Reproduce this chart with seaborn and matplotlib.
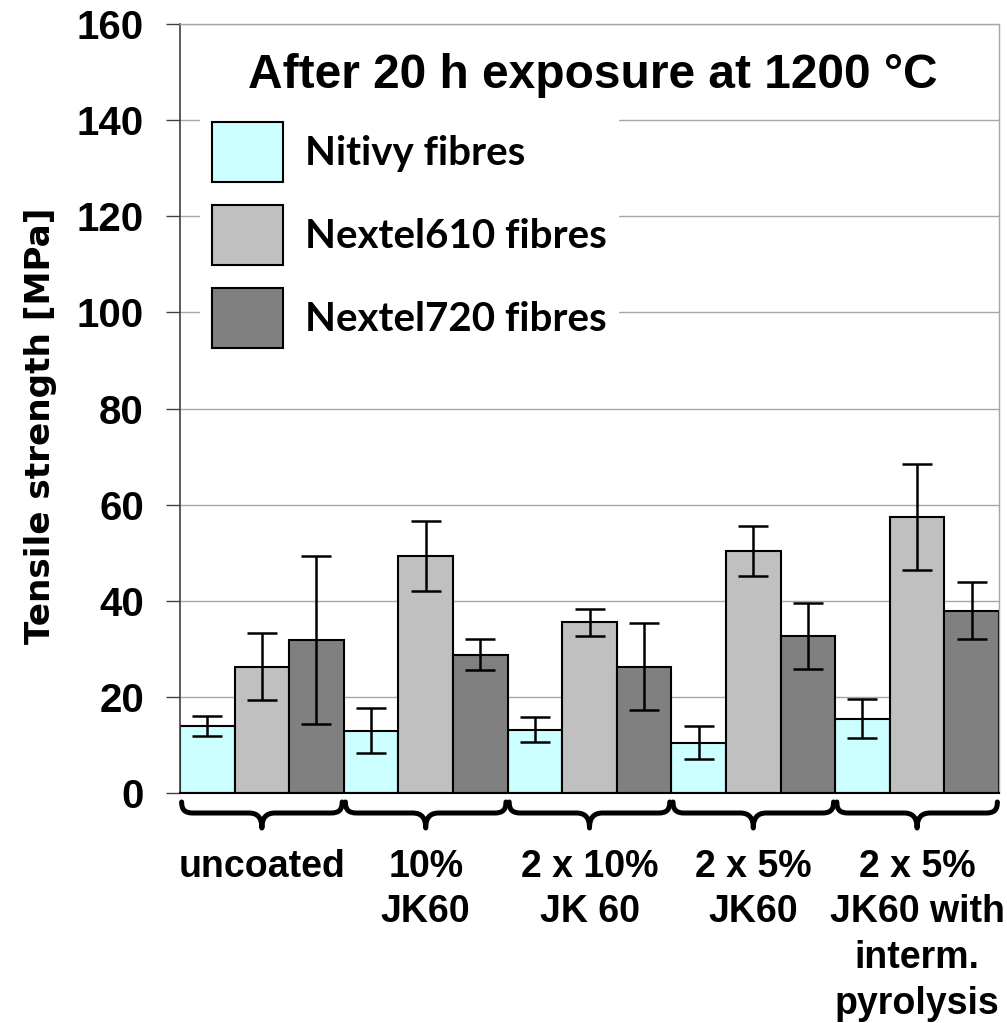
import numpy as np
import pandas as pd
import matplotlib
matplotlib.use("Agg")
import matplotlib.pyplot as plt
import seaborn as sns
from matplotlib.path import Path
from matplotlib.patches import PathPatch

# ---------------- data ----------------
groups = ["uncoated", "10%\nJK60", "2 x 10%\nJK 60", "2 x 5%\nJK60",
          "2 x 5%\nJK60 with\ninterm.\npyrolysis"]
fibres = ["Nitivy fibres", "Nextel610 fibres", "Nextel720 fibres"]
nitivy_vals = [14.0, 13.0, 13.2, 10.5, 15.5]
nitivy_err = [2.1, 4.75, 2.6, 3.45, 4.15]
n610_vals = [26.3, 49.3, 35.5, 50.4, 57.4]
n610_err = [7.0, 7.3, 2.8, 5.2, 11.05]
n720_vals = [31.9, 28.8, 26.3, 32.6, 37.9]
n720_err = [17.5, 3.2, 9.0, 6.9, 5.9]
colors = ["#CCFFFF", "#C0C0C0", "#808080"]
yticks = [0, 20, 40, 60, 80, 100, 120, 140, 160]
title = "After 20 h exposure at 1200 °C"
ylabel = "Tensile strength [MPa]"

vals = [nitivy_vals, n610_vals, n720_vals]
errs = [nitivy_err, n610_err, n720_err]
rows = []
for f, v in zip(fibres, vals):
    for g, val in zip(groups, v):
        rows.append({"group": g, "fibre": f, "value": val})
df = pd.DataFrame(rows)

# ---------------- figure ----------------
sns.set_style("white")
plt.rcParams["font.family"] = ["Liberation Sans", "DejaVu Sans"]
plt.rcParams["text.color"] = "black"
plt.rcParams["xtick.color"] = "black"
plt.rcParams["ytick.color"] = "black"
plt.rcParams["axes.labelcolor"] = "black"

W, H = 1007, 1023
fig = plt.figure(figsize=(W / 100, H / 100), dpi=100)
ax_l, ax_r, ax_t, ax_b = 180, 999, 24, 793
ax = fig.add_axes([ax_l / W, 1 - ax_b / H, (ax_r - ax_l) / W, (ax_b - ax_t) / H])

sns.barplot(data=df, x="group", y="value", hue="fibre", palette=colors,
            hue_order=fibres, order=groups, width=1.0, edgecolor="black",
            linewidth=1.5, errorbar=None, ax=ax, saturation=1)

# error bars at bar centres
for cont, e in zip(ax.containers, errs):
    xs = [p.get_x() + p.get_width() / 2 for p in cont.patches]
    hs = [p.get_height() for p in cont.patches]
    ax.errorbar(xs, hs, yerr=e, fmt="none", ecolor="black", elinewidth=1.8,
                capsize=11, capthick=1.8, zorder=5)

ax.set_xlim(-0.5, len(groups) - 0.5)
ax.set_ylim(0, 160)
ax.set_yticks(yticks)
ax.set_axisbelow(True)
ax.yaxis.grid(True, color="#a6a6a6", linewidth=1.0)
ax.xaxis.grid(False)

for s in ["top", "right"]:
    ax.spines[s].set_color("#a6a6a6")
    ax.spines[s].set_linewidth(1.0)
ax.spines["left"].set_color("#404040")
ax.spines["left"].set_linewidth(1.2)
ax.spines["bottom"].set_color("black")
ax.spines["bottom"].set_linewidth(1.5)

ax.tick_params(axis="y", which="major", direction="out", length=10, width=1.0,
               color="#404040", labelcolor="black", pad=16, left=True)
ax.tick_params(axis="x", length=0, pad=40, labelcolor="black")
for t in ax.get_yticklabels():
    t.set_fontsize(29)
    t.set_fontweight("bold")
for t in ax.get_xticklabels():
    t.set_fontsize(27)
    t.set_fontweight("bold")
    t.set_linespacing(1.35)
ax.set_xlabel("")
ax.set_ylabel("")

fig.text(50 / W, 1 - 426 / H, ylabel, rotation=90, rotation_mode="anchor",
         ha="center", va="baseline", fontsize=24.7, fontweight="bold",
         family="DejaVu Sans", color="black")

fig.text(593 / W, 1 - 88 / H, title, ha="center", va="baseline",
         fontsize=34.5, fontweight="bold", color="black")

# legend
handles, labels = ax.get_legend_handles_labels()
if ax.get_legend() is not None:
    ax.get_legend().remove()
leg = ax.legend(handles, labels, loc="upper left",
                bbox_to_anchor=(200 / W, 1 - 110 / H),
                bbox_transform=fig.transFigure, borderaxespad=0,
                prop={"family": "Lato", "weight": "bold", "size": 29},
                handlelength=1.75, handleheight=1.9, handletextpad=0.55,
                labelspacing=0.58, borderpad=0.3, frameon=True,
                fancybox=False, framealpha=1.0)
leg.get_frame().set_facecolor("white")
leg.get_frame().set_edgecolor("none")
for p in leg.get_patches():
    p.set_edgecolor("black")
    p.set_linewidth(1.5)
for t in leg.get_texts():
    t.set_color("black")

# curly braces under each group
axh = ax_b - ax_t
tr = ax.get_xaxis_transform()
w, e, m = 0.49, 0.07, 0.08
def dy(px):
    return -px / axh
for i in range(len(groups)):
    c = i
    verts = [
        (c - w, dy(9)),
        (c - w, dy(17)), (c - w + 0.02, dy(20)), (c - w + e, dy(20)),
        (c - m, dy(20)),
        (c - 0.025, dy(20)), (c, dy(25)), (c, dy(35)),
        (c, dy(25)), (c + 0.025, dy(20)), (c + m, dy(20)),
        (c + w - e, dy(20)),
        (c + w - 0.02, dy(20)), (c + w, dy(17)), (c + w, dy(9)),
    ]
    codes = [Path.MOVETO,
             Path.CURVE4, Path.CURVE4, Path.CURVE4,
             Path.LINETO,
             Path.CURVE4, Path.CURVE4, Path.CURVE4,
             Path.CURVE4, Path.CURVE4, Path.CURVE4,
             Path.LINETO,
             Path.CURVE4, Path.CURVE4, Path.CURVE4]
    pp = PathPatch(Path(verts, codes), transform=tr, facecolor="none",
                   edgecolor="black", linewidth=3.6, clip_on=False,
                   capstyle="round", joinstyle="round")
    ax.add_patch(pp)

fig.savefig("out.png", dpi=100)
